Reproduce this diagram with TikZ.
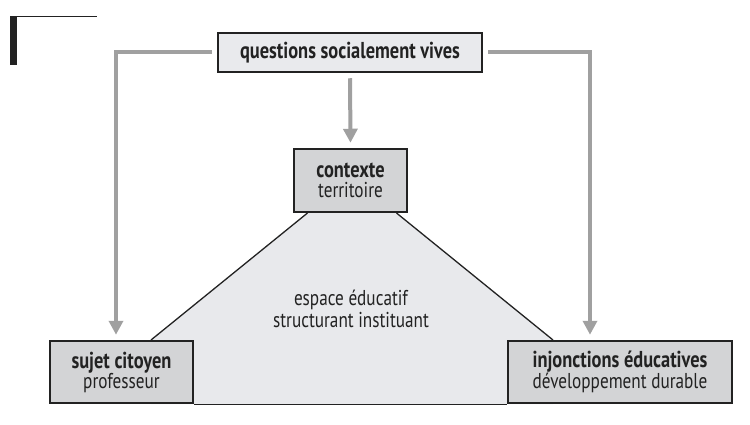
\documentclass[tikz,border=0pt]{standalone}
\usepackage{fontspec}
\setmainfont{PT Sans}[FakeStretch=0.8]
\usetikzlibrary{arrows.meta,calc}
\definecolor{boxdark}{HTML}{D3D4D6}
\definecolor{boxlight}{HTML}{E9EAED}
\definecolor{trap}{HTML}{E8E9EC}
\definecolor{conngray}{HTML}{A0A0A0}
\definecolor{ink}{HTML}{222222}
\newcommand\hd[1]{{\fontsize{23}{20}\selectfont\bfseries #1}}
\tikzset{
  box/.style={draw=ink, line width=2.5pt, inner sep=0pt, align=center, text=ink, font=\fontsize{21.5}{20}\selectfont},
  conn/.style={draw=conngray, line width=4pt, -{Triangle[width=14pt,length=14pt]}, shorten >=5pt},
}
\begin{document}
\begin{tikzpicture}[x=1pt,y=-1pt]
\useasboundingbox (0,0) rectangle (750,425);
% corner mark
\fill[ink] (10,16) rectangle (17,65);
\draw[line width=1.2pt, ink] (10,16.6) -- (97,16.6);
% top box
\node[box, fill=boxlight, minimum width=264pt, minimum height=39pt] (qsv) at (350,52.5) {\hd{questions socialement vives}};
\coordinate (ctx) at (350.5,180.5);
\coordinate (suj) at (121.5,372);
\coordinate (inj) at (620,372);
% trapezoid (behind boxes)
\coordinate (t1) at ($(ctx)+(-43,32.5)$);
\coordinate (t2) at ($(ctx)+(46,32.5)$);
\coordinate (b1) at ($(suj)+(29.5,-32)$);
\coordinate (b2) at ($(inj)+(-67,-32)$);
\fill[trap] (t1) -- (t2) -- (b2) -- ($(b2)+(0,64)$) -- ($(b1)+(0,64)$) -- (b1) -- cycle;
\draw[line width=1.3pt, ink] (t1) -- (b1);
\draw[line width=1.3pt, ink] (t2) -- (b2);
% boxes
\node[box, fill=boxdark, minimum width=113pt, minimum height=63pt] (ctxbox) at (ctx) {\hd{contexte}\\territoire};
\node[box, fill=boxdark, minimum width=143pt, minimum height=62pt] (sujbox) at (suj) {\hd{sujet citoyen}\\professeur};
\node[box, fill=boxdark, minimum width=224pt, minimum height=62pt] (injbox) at (inj) {\hd{injonctions éducatives}\\développement durable};
\draw[line width=1.3pt, ink] (sujbox.south east) -- (injbox.south west);
\node[align=center, text=ink, font=\fontsize{21.5}{22}\selectfont] (esp) at (351,309) {espace éducatif\\structurant instituant};
% connectors
\coordinate (lc) at (116,0);
\coordinate (rc) at (590,0);
\draw[conn, shorten <=5pt] (qsv.west) -| (sujbox.north -| lc);
\draw[conn, shorten <=5pt] (qsv.east) -| (injbox.north -| rc);
\draw[conn, shorten <=5pt] (qsv.south) -- (ctxbox.north);
\end{tikzpicture}
\end{document}
